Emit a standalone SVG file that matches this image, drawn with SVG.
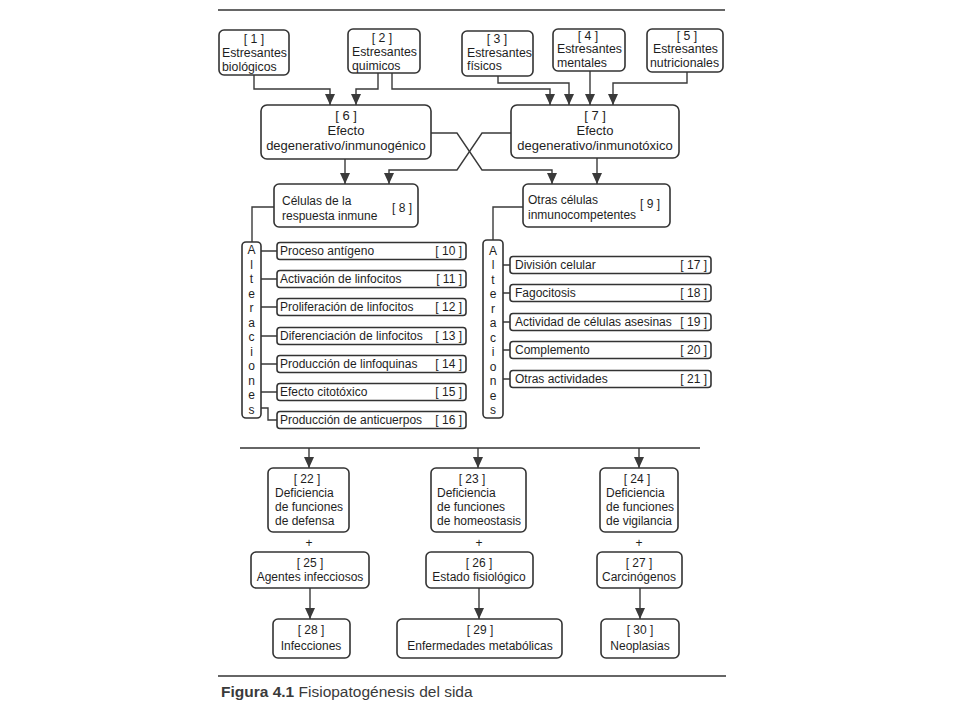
<svg xmlns="http://www.w3.org/2000/svg" width="960" height="720" viewBox="0 0 960 720">
<style>
.bx{fill:#fff;stroke:#333;stroke-width:1.6}
.ln{fill:none;stroke:#3a3a3a;stroke-width:1.4}
.ar{fill:none;stroke:#3a3a3a;stroke-width:1.4;marker-end:url(#ah)}
.rule{stroke:#333;stroke-width:1.6}
text{font-family:"Liberation Sans",Arial,sans-serif;fill:#1e1e1e}
.s{font-size:12.3px}
.e{font-size:13px}
.t{font-size:12px}
.c{text-anchor:middle}
.r{text-anchor:end}
</style>
<defs>
<marker id="ah" markerUnits="userSpaceOnUse" markerWidth="11" markerHeight="10" viewBox="0 0 11 10" refX="11" refY="5" orient="auto">
<path d="M0,0 L11,5 L0,10 Z" fill="#3a3a3a"/>
</marker>
</defs>
<rect width="960" height="720" fill="#fff"/>
<line class="rule" x1="218" y1="10" x2="725" y2="10"/>

<g id="connectors">
<path class="ar" d="M254,75 V89 H330 V105"/>
<path class="ar" d="M378,73 V89 H356 V105"/>
<path class="ar" d="M392,73 V89 H550 V105"/>
<path class="ar" d="M498,76 V83 H569 V105"/>
<path class="ar" d="M590,71 V105"/>
<path class="ar" d="M687,72 V83 H613 V105"/>
<path class="ar" d="M431,133 H457 L482,170 H552 V184"/>
<path class="ar" d="M511,133 H482 L457,170 H389 V184"/>
<path class="ar" d="M345,159 V184"/>
<path class="ar" d="M597,158 V184"/>
<path class="ln" d="M274,207 H252 V242"/>
<path class="ln" d="M261,251 H277 M261,279 H277 M261,307 H277 M261,336 H277 M261,364 H277 M261,392 H277 M261,408 H268 V420 H277"/>
<path class="ln" d="M523,207 H493 V240"/>
<path class="ln" d="M503,265 H510 M503,293 H510 M503,322 H510 M503,350 H510 M503,379 H510"/>
<line class="rule" x1="240" y1="448" x2="700" y2="448"/>
<path class="ar" d="M309,448 V468"/>
<path class="ar" d="M478,448 V468"/>
<path class="ar" d="M639,448 V468"/>
<path class="ar" d="M310,588 V619"/>
<path class="ar" d="M479,588 V619"/>
<path class="ar" d="M640,588 V619"/>
</g>

<g id="n1"><rect class="bx" x="219" y="30" width="70" height="45" rx="5"/>
<text class="s c" x="254" y="43">[ 1 ]</text><text class="s" x="222" y="57">Estresantes</text><text class="s" x="222" y="71">biológicos</text></g>
<g id="n2"><rect class="bx" x="348" y="29" width="72" height="44" rx="5"/>
<text class="s c" x="382" y="42">[ 2 ]</text><text class="s" x="352" y="56">Estresantes</text><text class="s" x="352" y="70">quimicos</text></g>
<g id="n3"><rect class="bx" x="462" y="31" width="71" height="45" rx="5"/>
<text class="s c" x="497" y="43">[ 3 ]</text><text class="s" x="467" y="57">Estresantes</text><text class="s" x="467" y="70">físicos</text></g>
<g id="n4"><rect class="bx" x="553" y="29" width="72" height="42" rx="5"/>
<text class="s c" x="588" y="40">[ 4 ]</text><text class="s" x="557" y="53">Estresantes</text><text class="s" x="557" y="67">mentales</text></g>
<g id="n5"><rect class="bx" x="647" y="29" width="76" height="43" rx="5"/>
<text class="s c" x="687" y="40">[ 5 ]</text><text class="s" x="653" y="53">Estresantes</text><text class="s" x="650" y="67">nutricionales</text></g>

<g id="n6"><rect class="bx" x="261" y="105" width="170" height="54" rx="6"/>
<text class="e c" x="346" y="120">[ 6 ]</text><text class="e c" x="346" y="135">Efecto</text><text class="e c" x="346" y="150">degenerativo/inmunogénico</text></g>
<g id="n7"><rect class="bx" x="511" y="105" width="168" height="53" rx="6"/>
<text class="e c" x="595" y="120">[ 7 ]</text><text class="e c" x="595" y="135">Efecto</text><text class="e c" x="595" y="150">degenerativo/inmunotóxico</text></g>

<g id="n8"><rect class="bx" x="274" y="184" width="144" height="43" rx="5"/>
<text class="t" x="282" y="205">Células de la</text><text class="t" x="282" y="220">respuesta inmune</text><text class="t" x="392" y="212">[ 8 ]</text></g>
<g id="n9"><rect class="bx" x="523" y="184" width="147" height="43" rx="5"/>
<text class="t" x="528" y="204">Otras células</text><text class="t" x="528" y="219">inmunocompetentes</text><text class="t" x="640" y="208">[ 9 ]</text></g>

<g id="alt-left"><rect class="bx" x="242" y="242" width="19" height="176" rx="4"/>
<text class="t c" x="251.5" y="254">A</text><text class="t c" x="251.5" y="269">l</text><text class="t c" x="251.5" y="283">t</text><text class="t c" x="251.5" y="298">e</text><text class="t c" x="251.5" y="312">r</text><text class="t c" x="251.5" y="327">a</text><text class="t c" x="251.5" y="341">c</text><text class="t c" x="251.5" y="356">i</text><text class="t c" x="251.5" y="370">o</text><text class="t c" x="251.5" y="385">n</text><text class="t c" x="251.5" y="399">e</text><text class="t c" x="251.5" y="414">s</text></g>

<g id="n10"><rect class="bx" x="277" y="242.5" width="189" height="17" rx="3"/><text class="t" x="280" y="255">Proceso antígeno</text><text class="t r" x="462" y="255">[ 10 ]</text></g>
<g id="n11"><rect class="bx" x="277" y="270.5" width="189" height="17" rx="3"/><text class="t" x="280" y="283">Activación de linfocitos</text><text class="t r" x="462" y="283">[ 11 ]</text></g>
<g id="n12"><rect class="bx" x="277" y="298.5" width="189" height="17" rx="3"/><text class="t" x="280" y="311">Proliferación de linfocitos</text><text class="t r" x="462" y="311">[ 12 ]</text></g>
<g id="n13"><rect class="bx" x="277" y="327.5" width="189" height="17" rx="3"/><text class="t" x="280" y="340">Diferenciación de linfocitos</text><text class="t r" x="462" y="340">[ 13 ]</text></g>
<g id="n14"><rect class="bx" x="277" y="355.5" width="189" height="17" rx="3"/><text class="t" x="280" y="368">Producción de linfoquinas</text><text class="t r" x="462" y="368">[ 14 ]</text></g>
<g id="n15"><rect class="bx" x="277" y="383.5" width="189" height="17" rx="3"/><text class="t" x="280" y="396">Efecto citotóxico</text><text class="t r" x="462" y="396">[ 15 ]</text></g>
<g id="n16"><rect class="bx" x="277" y="411.5" width="189" height="17" rx="3"/><text class="t" x="280" y="424">Producción de anticuerpos</text><text class="t r" x="462" y="424">[ 16 ]</text></g>

<g id="alt-right"><rect class="bx" x="483" y="240" width="20" height="178" rx="4"/>
<text class="t c" x="493" y="255">A</text><text class="t c" x="493" y="269">l</text><text class="t c" x="493" y="284">t</text><text class="t c" x="493" y="298">e</text><text class="t c" x="493" y="313">r</text><text class="t c" x="493" y="327">a</text><text class="t c" x="493" y="342">c</text><text class="t c" x="493" y="356">i</text><text class="t c" x="493" y="371">o</text><text class="t c" x="493" y="385">n</text><text class="t c" x="493" y="400">e</text><text class="t c" x="493" y="414">s</text></g>

<g id="n17"><rect class="bx" x="510" y="256.5" width="201" height="17" rx="3"/><text class="t" x="515" y="269">División celular</text><text class="t r" x="707" y="269">[ 17 ]</text></g>
<g id="n18"><rect class="bx" x="510" y="284.5" width="201" height="17" rx="3"/><text class="t" x="515" y="297">Fagocitosis</text><text class="t r" x="707" y="297">[ 18 ]</text></g>
<g id="n19"><rect class="bx" x="510" y="313.5" width="201" height="17" rx="3"/><text class="t" x="515" y="326">Actividad de células asesinas</text><text class="t r" x="707" y="326">[ 19 ]</text></g>
<g id="n20"><rect class="bx" x="510" y="341.5" width="201" height="17" rx="3"/><text class="t" x="515" y="354">Complemento</text><text class="t r" x="707" y="354">[ 20 ]</text></g>
<g id="n21"><rect class="bx" x="510" y="370.5" width="201" height="17" rx="3"/><text class="t" x="515" y="383">Otras actividades</text><text class="t r" x="707" y="383">[ 21 ]</text></g>

<g id="n22"><rect class="bx" x="268" y="468" width="81" height="64" rx="5"/>
<text class="t c" x="307" y="483">[ 22 ]</text><text class="t" x="275" y="497">Deficiencia</text><text class="t" x="275" y="511">de funciones</text><text class="t" x="275" y="525">de defensa</text></g>
<g id="n23"><rect class="bx" x="431" y="468" width="95" height="64" rx="5"/>
<text class="t c" x="472" y="483">[ 23 ]</text><text class="t" x="437" y="497">Deficiencia</text><text class="t" x="437" y="511">de funciones</text><text class="t" x="437" y="525">de homeostasis</text></g>
<g id="n24"><rect class="bx" x="600" y="468" width="78" height="64" rx="5"/>
<text class="t c" x="637" y="483">[ 24 ]</text><text class="t" x="606" y="497">Deficiencia</text><text class="t" x="606" y="511">de funciones</text><text class="t" x="606" y="525">de vigilancia</text></g>

<text class="t c" x="309" y="547">+</text>
<text class="t c" x="479" y="547">+</text>
<text class="t c" x="639" y="547">+</text>

<g id="n25"><rect class="bx" x="251" y="552" width="118" height="36" rx="5"/>
<text class="t c" x="310" y="567">[ 25 ]</text><text class="t c" x="310" y="581">Agentes infecciosos</text></g>
<g id="n26"><rect class="bx" x="426" y="552" width="107" height="36" rx="5"/>
<text class="t c" x="479" y="567">[ 26 ]</text><text class="t c" x="479" y="581">Estado fisiológico</text></g>
<g id="n27"><rect class="bx" x="597" y="552" width="85" height="36" rx="5"/>
<text class="t c" x="639" y="567">[ 27 ]</text><text class="t c" x="639" y="581">Carcinógenos</text></g>

<g id="n28"><rect class="bx" x="273" y="619" width="77" height="39" rx="5"/>
<text class="t c" x="311" y="634">[ 28 ]</text><text class="t c" x="311" y="650">Infecciones</text></g>
<g id="n29"><rect class="bx" x="397" y="619" width="165" height="39" rx="5"/>
<text class="t c" x="480" y="634">[ 29 ]</text><text class="t c" x="480" y="650">Enfermedades metabólicas</text></g>
<g id="n30"><rect class="bx" x="601" y="619" width="78" height="39" rx="5"/>
<text class="t c" x="640" y="634">[ 30 ]</text><text class="t c" x="640" y="650">Neoplasias</text></g>

<line class="rule" x1="218" y1="676" x2="726" y2="676"/>
<text x="221" y="697" style="font-size:15.5px;fill:#3a3a3a"><tspan font-weight="bold">Figura 4.1</tspan> Fisiopatogénesis del sida</text>
</svg>
